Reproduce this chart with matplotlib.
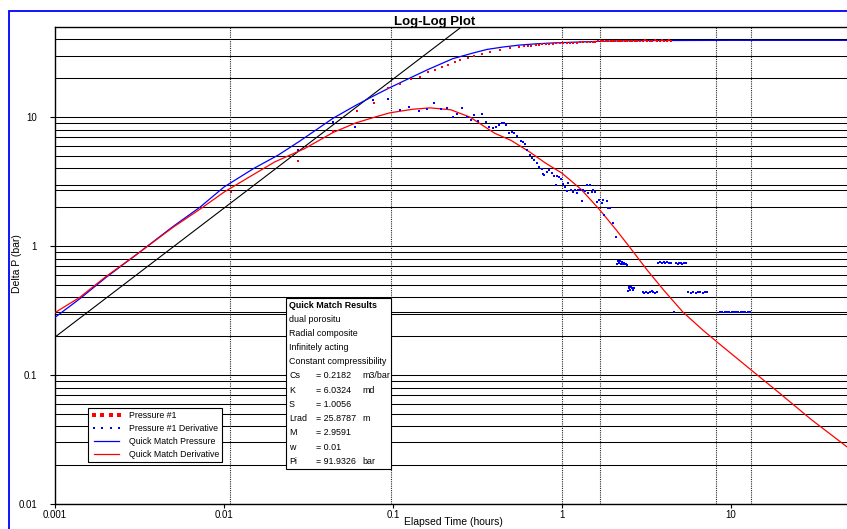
import numpy as np
import matplotlib
matplotlib.use("Agg")
import matplotlib.pyplot as plt
from matplotlib.patches import Rectangle

# pressure data (red dots)
p_time = [0.011, 0.0273, 0.044, 0.0612, 0.077, 0.093, 0.11, 0.128, 0.144, 0.161,
          0.177, 0.194, 0.211, 0.233, 0.25, 0.277, 0.30, 0.335, 0.375, 0.43,
          0.49, 0.56, 0.6, 0.63, 0.66, 0.7, 0.73, 0.76, 0.8, 0.84,
          0.88, 0.92, 0.97, 1.02, 1.07, 1.12, 1.17, 1.22, 1.28, 1.34,
          1.4, 1.46, 1.52, 1.58, 1.64, 1.7, 1.76, 1.82, 1.88, 1.94,
          2.0, 2.07, 2.14, 2.21, 2.28, 2.36, 2.44, 2.52, 2.6, 2.7,
          2.8, 2.9, 3.0, 3.1, 3.2, 3.3, 3.42, 3.54, 3.66, 3.78,
          3.9, 4.03, 4.16, 4.3, 4.45]
p_value = [2.62, 4.56, 7.8, 11.1, 12.8, 16.8, 18.0, 19.8, 20.4, 22.3,
           23.2, 24.4, 25.3, 26.6, 27.6, 28.6, 29.7, 31.0, 31.9, 33.0,
           34.3, 34.9, 35.3, 35.6, 35.9, 36.2, 36.4, 36.6, 36.8, 37.0,
           37.1, 37.3, 37.4, 37.5, 37.6, 37.7, 37.8, 37.9, 38.0, 38.1,
           38.2, 38.3, 38.4, 38.5, 38.6, 38.7, 38.8, 38.7, 38.9, 38.8,
           39.0, 38.9, 39.1, 39.0, 39.1, 38.9, 39.2, 39.0, 39.1, 39.2,
           39.0, 39.2, 39.1, 39.3, 39.1, 39.2, 39.0, 39.3, 39.2, 39.1,
           39.3, 39.2, 39.1, 39.3, 39.2]

# pressure derivative data (blue dots)
d_time = [0.0273, 0.0442, 0.06, 0.076, 0.093, 0.11, 0.124, 0.142, 0.16, 0.175,
          0.192, 0.208, 0.226, 0.24, 0.258, 0.273, 0.29, 0.30, 0.32, 0.338,
          0.355, 0.37, 0.39, 0.41, 0.424, 0.442, 0.454, 0.467, 0.486, 0.506,
          0.520, 0.542, 0.572, 0.588, 0.604, 0.621, 0.647, 0.664, 0.683, 0.711,
          0.731, 0.762, 0.772, 0.782, 0.815, 0.838, 0.873, 0.897, 0.921, 0.934,
          0.959, 0.986, 1.01, 1.04, 1.07, 1.09, 1.13, 1.16, 1.19, 1.23,
          1.24, 1.28, 1.31, 1.33, 1.37, 1.41, 1.43, 1.46, 1.51, 1.52,
          1.57, 1.61, 1.66, 1.73, 1.75, 1.77, 1.85, 1.87, 1.92, 2.00,
          2.08,
          2.12, 2.15, 2.18, 2.2, 2.23, 2.26, 2.29, 2.32, 2.35, 2.38, 2.42,
          2.45, 2.48, 2.51, 2.54, 2.57, 2.6, 2.63, 2.67,
          3.0, 3.08, 3.16, 3.24, 3.32, 3.4, 3.48, 3.56, 3.64,
          3.7, 3.8, 3.9, 4.0, 4.1, 4.2, 4.3, 4.45, 4.75, 4.85,
          4.95, 5.05, 5.15, 5.25, 5.35, 5.45,
          4.62,
          5.6, 5.8, 6.0, 6.2, 6.4, 6.6, 6.8, 7.0, 7.2,
          8.6, 8.9, 9.2, 9.5, 9.8, 10.1, 10.4, 10.7, 11.0, 11.4,
          11.8, 12.2, 12.6, 12.9]
d_value = [5.55, 9.1, 8.4, 13.5, 13.9, 11.3, 12.0, 11.1, 11.5, 12.8,
           11.5, 11.7, 10.0, 10.5, 11.7, 10.0, 9.5, 10.4, 9.3, 10.5,
           9.1, 8.4, 8.2, 8.4, 8.67, 8.98, 8.98, 8.67, 7.51, 7.65,
           7.51, 7.12, 6.51, 6.40, 6.18, 5.55, 5.07, 4.81, 4.64, 4.40,
           4.10, 3.95, 3.61, 3.55, 3.75, 3.88, 3.68, 3.49, 2.97, 3.49,
           3.43, 3.31, 3.03, 2.87, 2.67, 3.08, 2.72, 2.62, 2.72, 2.57,
           2.72, 2.72, 2.23, 2.72, 2.67, 2.97, 2.57, 2.97, 2.62, 2.72,
           2.62, 2.19, 2.27, 2.15, 2.27, 1.74, 2.23, 1.97, 1.97, 1.51,
           1.17,
           0.73, 0.76, 0.74, 0.77, 0.72, 0.75, 0.73, 0.74, 0.72, 0.73, 0.71,
           0.45, 0.47, 0.48, 0.46, 0.48, 0.47, 0.46, 0.47,
           0.44, 0.43, 0.44, 0.43, 0.44, 0.45, 0.44, 0.43, 0.44,
           0.74, 0.75, 0.74, 0.75, 0.74, 0.75, 0.74, 0.74, 0.74, 0.73,
           0.74, 0.74, 0.73, 0.74, 0.74, 0.74,
           0.31,
           0.44, 0.43, 0.44, 0.43, 0.44, 0.44, 0.43, 0.44, 0.44,
           0.31, 0.31, 0.31, 0.31, 0.31, 0.31, 0.31, 0.31, 0.31, 0.31,
           0.31, 0.31, 0.31, 0.31]

# quick match pressure (blue line)
qp_time = [0.001, 0.0014, 0.002, 0.003, 0.005, 0.0072, 0.01, 0.015, 0.0209, 0.028,
           0.0442, 0.06, 0.076, 0.093, 0.126, 0.16, 0.226, 0.3, 0.36, 0.45,
           0.56, 0.7, 0.88, 1.1, 1.39, 1.8, 2.2, 3.0, 5.0, 10.0, 20.0, 50.0]
qp_value = [0.28, 0.39, 0.57, 0.85, 1.42, 2.0, 2.87, 4.0, 5.07, 6.5,
            9.8, 12.3, 14.5, 16.6, 20.1, 23.3, 28.4, 31.5, 33.5, 35.0,
            36.2, 37.0, 37.6, 38.0, 38.4, 38.8, 39.0, 39.2, 39.3, 39.4, 39.4, 39.4]

# quick match derivative (red line)
qd_time = [0.001, 0.0014, 0.002, 0.003, 0.005, 0.0072, 0.01, 0.015, 0.02, 0.03,
           0.0442, 0.06, 0.08, 0.096, 0.13, 0.166, 0.22, 0.286, 0.4, 0.5,
           0.647, 0.8, 1.0, 1.3, 1.68, 2.1, 2.52, 3.2, 4.0, 5.2,
           6.8, 8.3, 12.9, 19.5, 30.0, 50.0]
qd_value = [0.305, 0.40, 0.58, 0.85, 1.40, 1.93, 2.62, 3.6, 4.5, 5.7,
            7.6, 9.0, 10.1, 10.8, 11.5, 11.8, 11.4, 10.0, 7.5, 6.6,
            5.35, 4.4, 3.68, 2.75, 1.9, 1.33, 0.98, 0.65, 0.456, 0.308,
            0.224, 0.18, 0.112, 0.072, 0.045, 0.027]

# unit slope line
slope_time = [0.001, 0.254]
slope_value = [0.197, 50.0]

x_ticks = [0.001, 0.01, 0.1, 1, 10]
x_labels = ["0.001", "0.01", "0.1", "1", "10"]
y_ticks = [0.01, 0.1, 1, 10]
y_labels = ["0.01", "0.1", "1", "10"]

v_lines = [0.01085, 0.0973, 1.0, 1.68, 8.15, 13.1]
h_extra = [2.72, 0.31]

results_title = "Quick Match Results"
results_notes = ["dual porositu", "Radial composite", "Infinitely acting",
                 "Constant compressibility"]
param_names = ["Cs", "K", "S", "Lrad", "M", "w", "Pi"]
param_values = ["= 0.2182", "= 6.0324", "= 1.0056", "= 25.8787", "= 2.9591",
                "= 0.01", "= 91.9326"]
param_units = ["m3/bar", "md", "", "m", "", "", "bar"]

W, H = 847, 529
plt.rcParams['font.family'] = ['Liberation Sans', 'DejaVu Sans']


def fx(x):
    return x / W


def fy(y):
    return 1 - y / H


fig = plt.figure(figsize=(W / 100, H / 100), dpi=100)
ax = fig.add_axes([fx(55), fy(504), 794 / W, 477 / H])
ax.set_xscale('log')
ax.set_yscale('log')
ax.set_xlim(0.001, 50)
ax.set_ylim(0.01, 50)

# horizontal grid: every step of each decade from 0.01 to 50
for dec in [0.01, 0.1, 1, 10]:
    for m in range(1, 10):
        v = dec * m
        if v < 50:
            ax.axhline(v, color='k', lw=0.75, zorder=1)
for v in h_extra:
    ax.axhline(v, color='k', lw=0.75, zorder=1)
for v in v_lines:
    ax.axvline(v, color='0.15', lw=0.8, ls=(0, (1, 1)), zorder=1)

ax.plot(slope_time, slope_value, color='k', lw=0.8, zorder=2)
ax.plot(qp_time, qp_value, color='#0000ff', lw=0.9, zorder=3,
        label='Quick Match Pressure')
ax.plot(qd_time, qd_value, color='#ff0000', lw=0.9, zorder=3,
        label='Quick Match Derivative')
ax.plot(p_time, p_value, ls='none', marker='s', ms=2.0, mew=0,
        color='#ff0000', zorder=4, label='Pressure #1')
ax.plot(d_time, d_value, ls='none', marker='s', ms=1.7, mew=0,
        color='#0000ff', zorder=4, label='Pressure #1 Derivative')

ax.set_xticks(x_ticks)
ax.set_xticklabels(x_labels)
ax.set_yticks(y_ticks)
ax.set_yticklabels(y_labels)
ax.xaxis.set_minor_locator(matplotlib.ticker.NullLocator())
ax.yaxis.set_minor_locator(matplotlib.ticker.NullLocator())
ax.tick_params(axis='x', length=3, width=0.8, pad=1.5, labelsize=7)
ax.tick_params(axis='y', length=3.6, width=0.8, pad=9.4, labelsize=7)
for s in ['left', 'bottom', 'top']:
    ax.spines[s].set_linewidth(1.0)
ax.spines['right'].set_visible(False)

h, l = ax.get_legend_handles_labels()
order = [2, 3, 0, 1]
leg = ax.legend([h[i] for i in order], [l[i] for i in order],
                loc='lower left', bbox_to_anchor=(0.0417, 0.088),
                borderaxespad=0, fontsize=6.3, numpoints=4, markerscale=1.1,
                handlelength=3.5, handletextpad=0.8, labelspacing=0.45,
                borderpad=0.35, fancybox=False, framealpha=1)
leg.get_frame().set_edgecolor('k')
leg.get_frame().set_linewidth(0.8)
leg.set_zorder(10)

# results box
fig.add_artist(Rectangle((fx(286), fy(469)), 105 / W, 171 / H,
                         transform=fig.transFigure, facecolor='white',
                         edgecolor='k', lw=0.8, zorder=5))
row_y = [305 + 14.2 * i for i in range(12)]
fig.text(fx(289), fy(row_y[0]), results_title, fontsize=6.4,
         fontweight='bold', va='center', zorder=6)
for i, note in enumerate(results_notes):
    fig.text(fx(289), fy(row_y[1 + i]), note, fontsize=6.4, va='center',
             zorder=6)
for i in range(len(param_names)):
    y = fy(row_y[5 + i])
    fig.text(fx(289), y, param_names[i], fontsize=6.4, va='center', zorder=6)
    fig.text(fx(316), y, param_values[i], fontsize=6.4, va='center', zorder=6)
    fig.text(fx(362), y, param_units[i], fontsize=6.4, va='center', zorder=6)

fig.text(fx(435), fy(25), "Log-Log Plot", fontsize=9.5, fontweight='bold',
         ha='center', va='baseline')
fig.text(fx(453), fy(517), "Elapsed Time (hours)", fontsize=7.5,
         ha='center', va='top')
fig.text(fx(17), fy(264), "Delta P (bar)", fontsize=7.5, rotation=90,
         ha='center', va='center')

# blue outer frame
fig.add_artist(Rectangle((fx(8.5), -0.1), 1.2, fy(10.5) + 0.1,
                         transform=fig.transFigure, fill=False,
                         edgecolor='#0000ff', lw=1.3, zorder=20))

fig.savefig("out.png", dpi=100)
